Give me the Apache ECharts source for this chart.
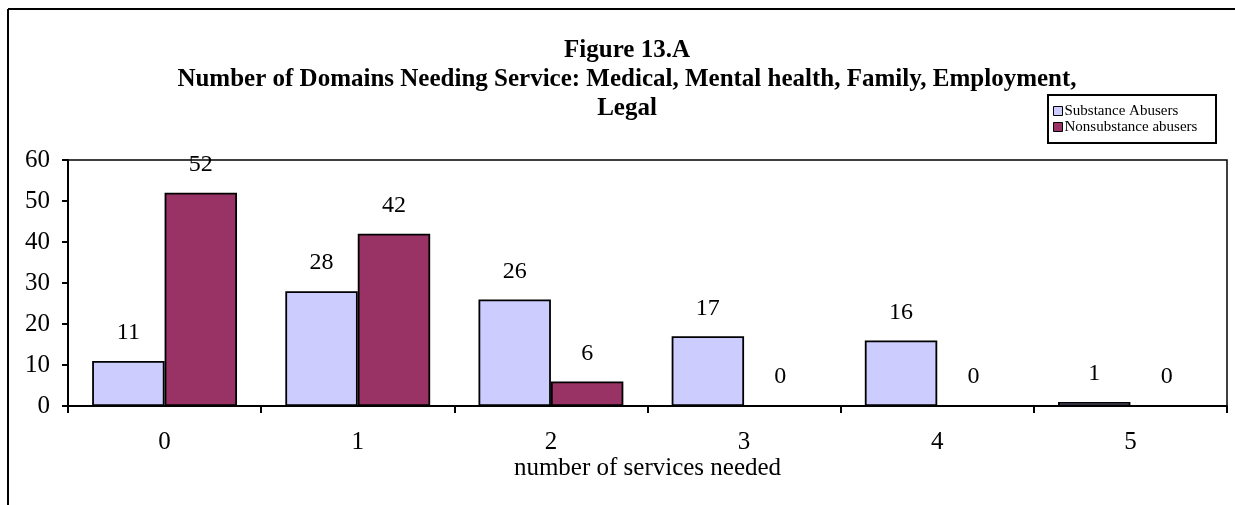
<!DOCTYPE html>
<html>
<head>
<meta charset="utf-8">
<script src="https://cdn.jsdelivr.net/npm/echarts@6/dist/echarts.min.js"></script>
<style>
  html, body { margin: 0; padding: 0; background: #fff; }
  #chart { width: 1235px; height: 505px; }
</style>
</head>
<body>
<div id="chart"></div>
<script>
// Number of services needed (category axis)
const categories = ['0', '1', '2', '3', '4', '5'];
// Counts per group
const substanceAbusers = [11, 28, 26, 17, 16, 1];
const nonsubstanceAbusers = [52, 42, 6, 0, 0, 0];
const seriesNames = ['Substance Abusers', 'Nonsubstance abusers'];
const titleLines = [
  'Figure 13.A',
  'Number of Domains Needing Service: Medical, Mental health, Family, Employment,',
  'Legal'
];
const xAxisTitle = 'number of services needed';

const SERIF = '"Liberation Serif", "Times New Roman", serif';
const chart = echarts.init(document.getElementById('chart'));

const labelStyle = {
  show: true,
  position: 'top',
  distance: 16,
  color: '#000',
  fontFamily: SERIF,
  fontSize: 24
};

chart.setOption({
  animation: false,
  backgroundColor: '#fff',
  title: {
    text: titleLines.join('\n'),
    left: 622,
    top: 31,
    textAlign: 'center',
    textStyle: {
      fontFamily: SERIF,
      fontWeight: 'bold',
      fontSize: 25,
      lineHeight: 29,
      color: '#000'
    }
  },
  legend: {
    orient: 'vertical',
    left: 1053,
    top: 103,
    itemGap: 0,
    itemWidth: 9,
    itemHeight: 9,
    icon: 'rect',
    padding: 0,
    selectedMode: false,
    data: seriesNames,
    itemStyle: { borderColor: '#000', borderWidth: 1 },
    textStyle: { fontFamily: SERIF, fontSize: 15, lineHeight: 16, color: '#000', padding: [0, 0, 0, -3] }
  },
  grid: {
    left: 68,
    right: 8,
    top: 160,
    bottom: 99,
    show: true,
    borderColor: '#000',
    borderWidth: 1.5
  },
  xAxis: {
    type: 'category',
    data: categories,
    name: xAxisTitle,
    nameLocation: 'middle',
    nameGap: 45,
    nameTextStyle: { fontFamily: SERIF, fontSize: 25, color: '#000' },
    axisLine: { lineStyle: { color: '#000', width: 2 } },
    axisTick: { show: true, inside: false, length: 7, alignWithLabel: false, lineStyle: { color: '#000', width: 2 } },
    axisLabel: { margin: 24, fontFamily: SERIF, fontSize: 25, color: '#000' },
    splitLine: { show: false }
  },
  yAxis: {
    type: 'value',
    min: 0,
    max: 60,
    interval: 10,
    axisLine: { show: true, lineStyle: { color: '#000', width: 2 } },
    axisTick: { show: true, inside: false, length: 6, lineStyle: { color: '#000', width: 2 } },
    axisLabel: { margin: 18, fontFamily: SERIF, fontSize: 25, color: '#000' },
    splitLine: { show: false }
  },
  series: [
    {
      name: seriesNames[0],
      type: 'bar',
      data: substanceAbusers,
      barGap: '0%',
      barCategoryGap: '25%',
      itemStyle: { color: '#CCCCFF', borderColor: '#000', borderWidth: 1.8 },
      label: labelStyle
    },
    {
      name: seriesNames[1],
      type: 'bar',
      data: nonsubstanceAbusers,
      barGap: '0%',
      barCategoryGap: '25%',
      itemStyle: { color: '#993366', borderColor: '#000', borderWidth: 1.8 },
      label: labelStyle
    }
  ],
  graphic: [
    // outer frame (top and left edges)
    { type: 'line', shape: { x1: 8, y1: 9, x2: 1235, y2: 9 }, style: { stroke: '#000', lineWidth: 2 } },
    { type: 'line', shape: { x1: 8, y1: 9, x2: 8, y2: 505 }, style: { stroke: '#000', lineWidth: 2 } },
    // legend box
    { type: 'rect', shape: { x: 1048, y: 95, width: 168, height: 48 }, style: { fill: 'none', stroke: '#000', lineWidth: 2 }, z: 10 }
  ]
});
</script>
</body>
</html>
